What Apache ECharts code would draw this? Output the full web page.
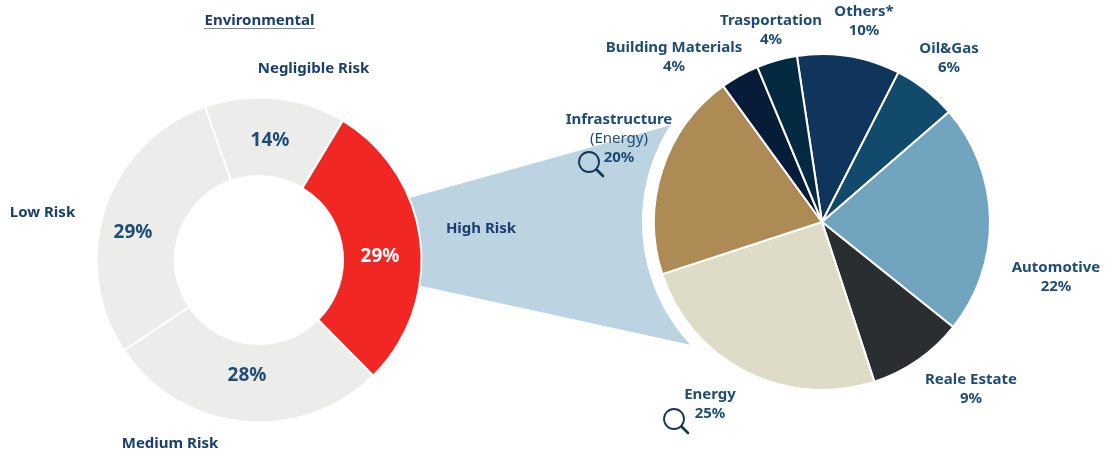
<!DOCTYPE html>
<html><head><meta charset="utf-8">
<style>html,body{margin:0;padding:0;background:#fff}#c{width:1114px;height:454px}</style>
<script src="https://cdn.jsdelivr.net/npm/echarts@6/dist/echarts.min.js"></script>
</head><body><div id="c"></div>
<script>
var riskNames = ['High Risk','Medium Risk','Low Risk','Negligible Risk'];
var riskValues = [29,28,29,14];
var riskColors = ['#f12723','#ecedeb','#ecedeb','#ecedeb'];
var riskTextColors = ['#ffffff','#1f4c74','#1f4c74','#1f4c74'];
var riskNamePos = [[481,229],[170,444],[42.5,213],[313.5,69]];
var riskValuePos = [[380,256.5],[247,375.5],[133,232.5],[270,140.5]];

var sectorNames = ['Others*','Oil&Gas','Automotive','Reale Estate','Energy','Infrastructure','Building Materials','Trasportation'];
// Sector sizes as measured from the slice angles; the printed labels are their rounded values
var sectorValues = [9.9,6.1,22.1,9.2,25,20,3.7,3.9];
var sectorColors = ['#0f355d','#124a6b','#71a5bf','#2a2e30','#dedbc6','#ae8a55','#061c38','#032a40'];
var sectorLabelPos = [[864,21],[949,58],[1056,277],[971,389],[710,404],[619,139],[674,57],[771,30]];

var FONT = '"Noto Sans", sans-serif';
var NAVY = '#1f4c74';

function arcPoints(cx, cy, r, a0, a1) {
  var pts = [];
  for (var i = 0; i <= 40; i++) {
    var a = (a0 + (a1 - a0) * i / 40) * Math.PI / 180;
    pts.push([cx + r * Math.cos(a), cy - r * Math.sin(a)]);
  }
  return pts;
}
var wedge = arcPoints(822,222,180,147.5,223).concat(arcPoints(259,260,161,-9,22.5));

function lens(x, y) {
  return {type:'group', x:x, y:y, silent:true, z:5, children:[
    {type:'circle', shape:{cx:0,cy:0,r:10}, style:{fill:'none',stroke:'#12355b',lineWidth:1.8}},
    {type:'line', shape:{x1:8,y1:8,x2:14,y2:14}, style:{stroke:'#12355b',lineWidth:2.6,lineCap:'round'}}
  ]};
}

var graphics = [
  {type:'polygon', silent:true, z:0, shape:{points:wedge}, style:{fill:'#bcd3e1'}},
  {type:'text', x:259.5, y:21, z:5, silent:true,
   style:{text:'Environmental', font:'bold 15px '+FONT, fill:'#1a3e6e', align:'center', verticalAlign:'middle'}},
  {type:'line', silent:true, z:5, shape:{x1:204,y1:28.5,x2:315,y2:28.5}, style:{stroke:'#6f8fae',lineWidth:1}},
  lens(589,162), lens(674,419)
];
riskNames.forEach(function(n,i){
  graphics.push({type:'text', x:riskNamePos[i][0], y:riskNamePos[i][1], z:5, silent:true,
    style:{text:n, font:'bold 15px '+FONT, fill:'#1a3e6e', align:'center', verticalAlign:'middle'}});
});

var chart = echarts.init(document.getElementById('c'), null, {renderer:'canvas'});
chart.setOption({
  animation:false,
  graphic:graphics,
  series:[
    {type:'pie', z:2, silent:true, center:[259,260], radius:[84,162.5], startAngle:59, clockwise:true,
     itemStyle:{borderColor:'#fff',borderWidth:2},
     label:{show:true, position:'inside', formatter:'{c}%', fontFamily:FONT, fontWeight:'bold', fontSize:19},
     labelLine:{show:false},
     labelLayout:function(p){
       var pos = riskValuePos[p.dataIndex];
       return {x:pos[0], y:pos[1], align:'center', verticalAlign:'middle', hideOverlap:false};
     },
     data:riskValues.map(function(v,i){return {value:v,name:riskNames[i],
       itemStyle:{color:riskColors[i]}, label:{color:riskTextColors[i]}};})},
    {type:'pie', z:2, silent:true, center:[822,222], radius:[0,168], startAngle:98.6, clockwise:true,
     itemStyle:{borderColor:'#fff',borderWidth:2},
     labelLine:{show:false},
     label:{show:true, position:'outside', overflow:'none', color:NAVY, fontFamily:FONT, fontWeight:'bold', fontSize:15, lineHeight:19, align:'center',
       formatter:function(p){
         var pct = Math.round(p.value)+'%';
         return p.name==='Infrastructure' ? p.name+'\n{sub|(Energy)}\n'+pct : p.name+'\n'+pct;
       },
       rich:{sub:{fontFamily:FONT,fontSize:15,fontWeight:'normal',color:NAVY,lineHeight:19}}},
     labelLayout:function(p){
       var pos = sectorLabelPos[p.dataIndex];
       return {x:pos[0], y:pos[1], align:'center', verticalAlign:'middle', hideOverlap:false};
     },
     data:sectorValues.map(function(v,i){return {value:v,name:sectorNames[i],itemStyle:{color:sectorColors[i]}};})}
  ]
});
</script></body></html>
